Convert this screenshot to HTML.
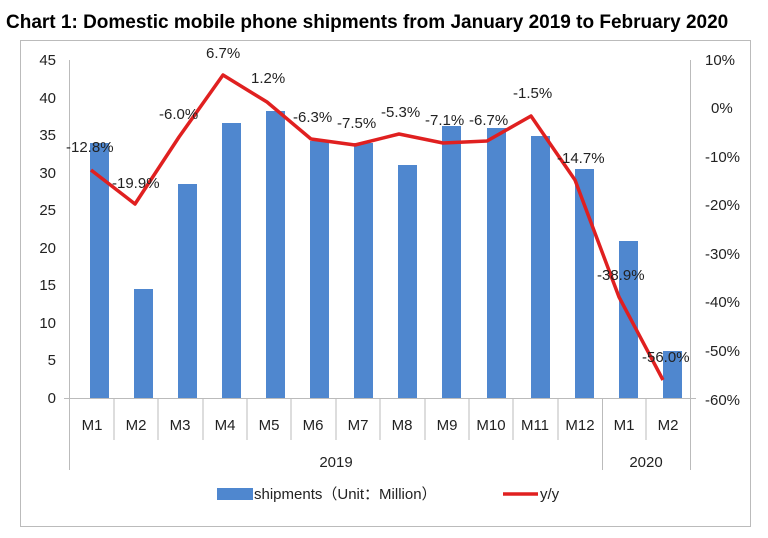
<!DOCTYPE html><html><head><style>body{margin:0;background:#fff}svg{display:block}text{font-family:"Liberation Sans","Noto Sans CJK SC",sans-serif}</style></head><body>
<svg width="768" height="538" xmlns="http://www.w3.org/2000/svg">
<text x="6" y="28" font-size="19" font-weight="bold" fill="#000">Chart 1: Domestic mobile phone shipments from January 2019 to February 2020</text>
<rect x="20.5" y="40.5" width="730" height="486" fill="none" stroke="#bbb"/>
<g font-size="15" fill="#222" text-anchor="end">
<text x="56" y="403">0</text><text x="56" y="365">5</text><text x="56" y="328">10</text><text x="56" y="290">15</text><text x="56" y="253">20</text><text x="56" y="215">25</text><text x="56" y="178">30</text><text x="56" y="140">35</text><text x="56" y="103">40</text><text x="56" y="65">45</text>
</g>
<g font-size="15" fill="#222">
<text x="705" y="65">10%</text><text x="711" y="113">0%</text><text x="705" y="162">-10%</text><text x="705" y="210">-20%</text><text x="705" y="259">-30%</text><text x="705" y="307">-40%</text><text x="705" y="356">-50%</text><text x="705" y="405">-60%</text>
</g>
<line x1="69.5" y1="60" x2="69.5" y2="470" stroke="#bbb"/>
<line x1="690.5" y1="60" x2="690.5" y2="470" stroke="#bbb"/>
<line x1="602.5" y1="398" x2="602.5" y2="470" stroke="#bbb"/>
<line x1="64" y1="398.5" x2="696" y2="398.5" stroke="#bbb"/>
<g stroke="#bbb">
<line x1="114" y1="398" x2="114" y2="440"/><line x1="158" y1="398" x2="158" y2="440"/><line x1="203" y1="398" x2="203" y2="440"/><line x1="247" y1="398" x2="247" y2="440"/><line x1="291" y1="398" x2="291" y2="440"/><line x1="336" y1="398" x2="336" y2="440"/><line x1="380" y1="398" x2="380" y2="440"/><line x1="425" y1="398" x2="425" y2="440"/><line x1="469" y1="398" x2="469" y2="440"/><line x1="513" y1="398" x2="513" y2="440"/><line x1="558" y1="398" x2="558" y2="440"/><line x1="646" y1="398" x2="646" y2="440"/>
</g>
<g fill="#4f87cf">
<rect x="90" y="143" width="19" height="255"/>
<rect x="134" y="289" width="19" height="109"/>
<rect x="178" y="184" width="19" height="214"/>
<rect x="222" y="123" width="19" height="275"/>
<rect x="266" y="111" width="19" height="287"/>
<rect x="310" y="141" width="19" height="257"/>
<rect x="354" y="143" width="19" height="255"/>
<rect x="398" y="165" width="19" height="233"/>
<rect x="442" y="126" width="19" height="272"/>
<rect x="487" y="128" width="19" height="270"/>
<rect x="531" y="136" width="19" height="262"/>
<rect x="575" y="169" width="19" height="229"/>
<rect x="619" y="241" width="19" height="157"/>
<rect x="663" y="351" width="19" height="47"/>
</g>
<polyline fill="none" stroke="#e02020" stroke-width="3.5" stroke-linejoin="round" points="91,170 135,204 179,137 223,75 267,102 311,139 355,145 399,134 443,143 487,141 531,116 575,180 619,297 663,380"/>
<g font-size="15" fill="#222">
<text x="66" y="152">-12.8%</text><text x="112" y="188">-19.9%</text><text x="159" y="119">-6.0%</text><text x="206" y="58">6.7%</text><text x="251" y="83">1.2%</text><text x="293" y="122">-6.3%</text><text x="337" y="128">-7.5%</text><text x="381" y="117">-5.3%</text><text x="425" y="125">-7.1%</text><text x="469" y="125">-6.7%</text><text x="513" y="98">-1.5%</text><text x="557" y="163">-14.7%</text><text x="597" y="280">-38.9%</text><text x="642" y="362">-56.0%</text>
</g>
<g font-size="15" fill="#222" text-anchor="middle">
<text x="92" y="430">M1</text><text x="136" y="430">M2</text><text x="180" y="430">M3</text><text x="225" y="430">M4</text><text x="269" y="430">M5</text><text x="313" y="430">M6</text><text x="358" y="430">M7</text><text x="402" y="430">M8</text><text x="447" y="430">M9</text><text x="491" y="430">M10</text><text x="535" y="430">M11</text><text x="580" y="430">M12</text><text x="624" y="430">M1</text><text x="668" y="430">M2</text>
<text x="336" y="467">2019</text><text x="646" y="467">2020</text>
</g>
<rect x="217" y="488" width="36" height="12" fill="#4f87cf"/>
<text x="254" y="499" font-size="15" fill="#222">shipments（Unit：Million）</text>
<line x1="503" y1="494" x2="538" y2="494" stroke="#e02020" stroke-width="3.5"/>
<text x="540" y="499" font-size="15" fill="#222">y/y</text>
</svg>
</body></html>
